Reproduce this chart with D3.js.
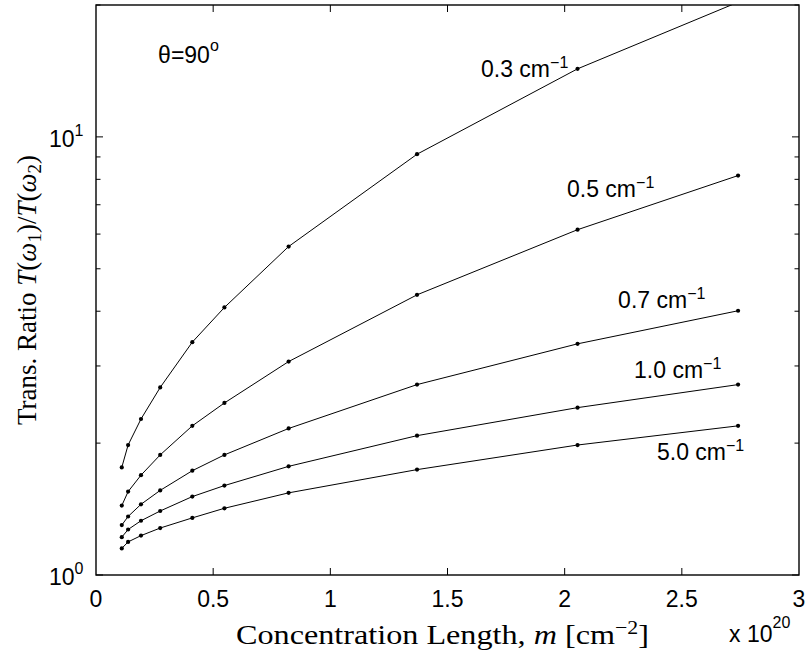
<!DOCTYPE html>
<html>
<head>
<meta charset="utf-8">
<script src="https://cdn.jsdelivr.net/npm/d3@7"></script>
<style>
  body { margin: 0; background: #fff; }
  svg { display: block; }
  .sans { font-family: "Liberation Sans", Arial, Helvetica, sans-serif; }
  .serif { font-family: "Liberation Serif", "Times New Roman", serif; }
</style>
</head>
<body>
<svg id="chart" width="809" height="655"></svg>
<script>
// ---- data ----
const concentration = [0.11, 0.137, 0.192, 0.274, 0.411, 0.548, 0.822, 1.37, 2.055, 2.74];
const seriesNames = ["0.3", "0.5", "0.7", "1.0", "5.0"];
const ratio03 = [1.76, 1.98, 2.27, 2.68, 3.40, 4.08, 5.62, 9.13, 14.3, 20.3];
const ratio05 = [1.44, 1.55, 1.69, 1.88, 2.19, 2.47, 3.07, 4.36, 6.14, 8.16];
const ratio07 = [1.30, 1.36, 1.45, 1.56, 1.73, 1.88, 2.16, 2.72, 3.37, 4.01];
const ratio10 = [1.22, 1.27, 1.33, 1.40, 1.51, 1.60, 1.77, 2.08, 2.41, 2.72];
const ratio50 = [1.15, 1.19, 1.23, 1.28, 1.35, 1.42, 1.54, 1.74, 1.98, 2.19];
const xTickValues = [0, 0.5, 1, 1.5, 2, 2.5, 3];
const xTickLabels = ["0", "0.5", "1", "1.5", "2", "2.5", "3"];
const yMajorTicks = [1, 10];
const yMajorExponents = ["0", "1"];
const yMinorTicks = [2, 3, 4, 5, 6, 7, 8, 9, 20];
// label anchor positions in data units (x, ratio)
const labelAnchors = [[1.643, 13.7], [2.01, 7.29], [2.228, 4.07], [2.296, 2.817], [2.394, 1.83]];

const allSeries = [ratio03, ratio05, ratio07, ratio10, ratio50];

// ---- layout ----
const svg = d3.select("#chart");
const L = 96, R = 799, T = 5, B = 575;
const x = d3.scaleLinear().domain([0, 3]).range([L, R]);
const y = d3.scaleLog().domain([1, 20]).range([B, T]);

svg.append("defs").append("clipPath").attr("id", "clip")
  .append("rect").attr("x", L).attr("y", T).attr("width", R - L).attr("height", B - T);

const plot = svg.append("g").attr("clip-path", "url(#clip)");
const line = d3.line().x(d => x(d[0])).y(d => y(d[1]));

allSeries.forEach(vals => {
  const pts = concentration.map((c, i) => [c, vals[i]]);
  plot.append("path").datum(pts).attr("d", line)
    .attr("fill", "none").attr("stroke", "#000").attr("stroke-width", 1);
  plot.selectAll(null).data(pts).enter().append("circle")
    .attr("cx", d => x(d[0])).attr("cy", d => y(d[1])).attr("r", 2.1).attr("fill", "#000");
});

// ---- axes (ticks inward, all four sides) ----
const axG = svg.append("g").attr("stroke", "#000").attr("stroke-width", 1);
const majorLen = 7, minorLen = 4.5;
xTickValues.forEach(v => {
  if (v === 0 || v === 3) return;
  axG.append("line").attr("x1", x(v)).attr("x2", x(v)).attr("y1", B).attr("y2", B - majorLen);
  axG.append("line").attr("x1", x(v)).attr("x2", x(v)).attr("y1", T).attr("y2", T + majorLen);
});
yMajorTicks.forEach(v => {
  axG.append("line").attr("x1", L).attr("x2", L + majorLen).attr("y1", y(v)).attr("y2", y(v));
  axG.append("line").attr("x1", R).attr("x2", R - majorLen).attr("y1", y(v)).attr("y2", y(v));
});
yMinorTicks.forEach(v => {
  axG.append("line").attr("x1", L).attr("x2", L + minorLen).attr("y1", y(v)).attr("y2", y(v));
  axG.append("line").attr("x1", R).attr("x2", R - minorLen).attr("y1", y(v)).attr("y2", y(v));
});
svg.append("rect").attr("x", L).attr("y", T).attr("width", R - L).attr("height", B - T)
  .attr("fill", "none").attr("stroke", "#000").attr("stroke-width", 1.4);

// tick labels
const fs = 23;
xTickValues.forEach((v, i) => {
  svg.append("text").attr("class", "sans").attr("x", x(v)).attr("y", 607)
    .attr("text-anchor", "middle").attr("font-size", fs).text(xTickLabels[i]);
});
yMajorTicks.forEach((v, i) => {
  const t = svg.append("text").attr("class", "sans").attr("font-size", fs)
    .attr("x", 49).attr("y", y(v) + 10);
  t.append("tspan").text("10");
  t.append("tspan").attr("font-size", 16).attr("dy", -11).text(yMajorExponents[i]);
});

// x multiplier
const mult = svg.append("text").attr("class", "sans").attr("font-size", fs).attr("x", 729).attr("y", 642);
mult.append("tspan").text("x 10");
mult.append("tspan").attr("font-size", 16).attr("dy", -14).text("20");

// series labels
seriesNames.forEach((n, i) => {
  const [lx, ly] = labelAnchors[i];
  const t = svg.append("text").attr("class", "sans").attr("font-size", fs)
    .attr("x", x(lx)).attr("y", y(ly));
  t.append("tspan").text(n + " cm");
  t.append("tspan").attr("font-size", 16).attr("dy", -9).text("\u22121");
});

// theta label
const th = svg.append("text").attr("class", "sans").attr("font-size", fs)
  .attr("x", x(0.265)).attr("y", y(14.75));
th.append("tspan").text("\u03b8=90");
th.append("tspan").attr("font-size", 16).attr("dy", -12).text("o");

// axis titles (serif, LaTeX-like)
const xl = svg.append("g").attr("transform", `translate(${(L + R) / 2 - 5},644) scale(1.15,1)`)
  .append("text").attr("class", "serif").attr("font-size", 28)
  .attr("x", 0).attr("y", 0).attr("text-anchor", "middle");
xl.append("tspan").text("Concentration Length, ");
xl.append("tspan").attr("font-style", "italic").text("m");
xl.append("tspan").text(" [cm");
xl.append("tspan").attr("font-size", 19).attr("dy", -10).text("\u22122");
xl.append("tspan").attr("dy", 10).text("]");

const yl = svg.append("text").attr("class", "serif").attr("font-size", 27)
  .attr("text-anchor", "middle")
  .attr("transform", `translate(36,${(T + B) / 2}) rotate(-90)`);
yl.append("tspan").text("Trans. Ratio ");
yl.append("tspan").attr("font-style", "italic").text("T");
yl.append("tspan").text("(");
yl.append("tspan").attr("font-style", "italic").text("\u03c9");
yl.append("tspan").attr("font-size", 19).attr("dy", 5).text("1");
yl.append("tspan").attr("dy", -5).text(")/");
yl.append("tspan").attr("font-style", "italic").text("T");
yl.append("tspan").text("(");
yl.append("tspan").attr("font-style", "italic").text("\u03c9");
yl.append("tspan").attr("font-size", 19).attr("dy", 5).text("2");
yl.append("tspan").attr("dy", -5).text(")");
</script>
</body>
</html>
